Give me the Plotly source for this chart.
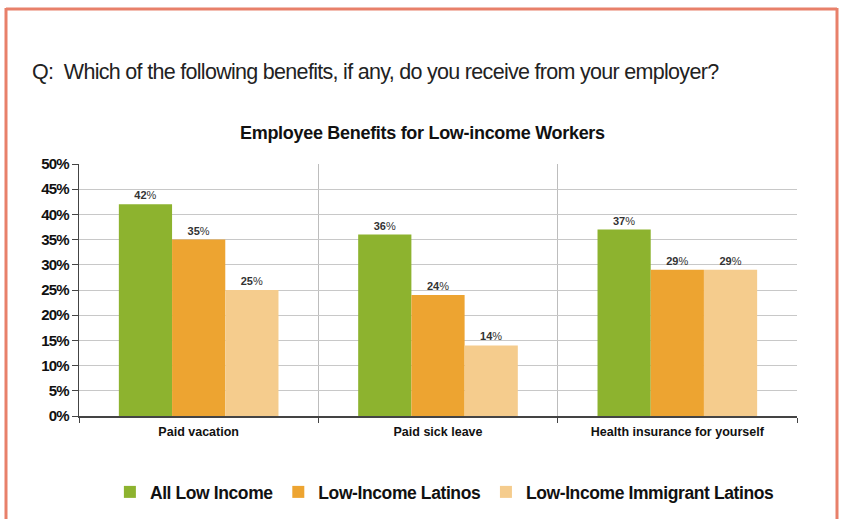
import plotly.graph_objects as go

categories = ["Paid vacation", "Paid sick leave", "Health insurance for yourself"]
series_names = ["All Low Income", "Low-Income Latinos", "Low-Income Immigrant Latinos"]
all_low = [42, 36, 37]
latinos = [35, 24, 29]
immigrant = [25, 14, 29]
colors = ["#8DB32F", "#EDA431", "#F5CC8D"]
y_ticks = [0, 5, 10, 15, 20, 25, 30, 35, 40, 45, 50]

W, H = 841, 519
L, R, T, B = 79, 44, 164, 103
PW, PH = W - L - R, H - T - B

ARIAL = "Liberation Sans, Arial, sans-serif"


def px_x(px):
    return (px - L) / PW


def px_y(py):
    return (H - B - py) / PH


fig = go.Figure()
for name, vals, col in zip(series_names, [all_low, latinos, immigrant], colors):
    fig.add_trace(go.Bar(
        x=categories, y=vals,
        name=f"<span style='letter-spacing:-0.4px'><b>{name}</b></span>",
        marker=dict(color=col, line=dict(width=0)),
        text=[f"<b>{v}</b>%" for v in vals], texttemplate="%{text}", textposition="outside",
        textfont=dict(family=ARIAL, size=11, color="#333333"),
        cliponaxis=False,
    ))

fig.update_layout(
    width=W, height=H,
    margin=dict(l=L, r=R, t=T, b=B),
    paper_bgcolor="white", plot_bgcolor="white",
    barmode="group", bargap=0.333, bargroupgap=0,
    showlegend=True,
    legend=dict(orientation="h", x=0.529, xanchor="center", xref="container",
                y=0.052, yanchor="middle", yref="container",
                font=dict(family=ARIAL, size=17.5, color="#111111"),
                itemwidth=30, traceorder="normal"),
    font=dict(family=ARIAL, color="#111111"),
    xaxis=dict(
        tickson="boundaries", showgrid=True, gridcolor="#BDBDBD", gridwidth=1,
        showline=True, linecolor="#444444", linewidth=1.5,
        ticks="outside", ticklen=5, tickcolor="#444444",
        tickvals=categories, ticktext=[f"<b>{c}</b>" for c in categories],
        tickfont=dict(family=ARIAL, size=12.5, color="#111111"),
        ticklabelstandoff=3,
        range=[-0.5, 2.5],
    ),
    yaxis=dict(
        range=[0, 50], tickvals=y_ticks,
        ticktext=[f"<span style='letter-spacing:-0.8px'><b>{v}%</b></span>" for v in y_ticks],
        showgrid=True, gridcolor="#C8C8C8", gridwidth=1,
        showline=True, linecolor="#444444", linewidth=1.2,
        ticks="outside", ticklen=6, tickcolor="#444444",
        tickfont=dict(family=ARIAL, size=15, color="#111111"),
        zeroline=False,
    ),
)

fig.add_annotation(
    text="<span style='letter-spacing:-0.7px'>Q:  Which of the following benefits, if any, do you receive from your employer?</span>",
    xref="paper", yref="paper", x=px_x(30), xanchor="left", y=px_y(72), yanchor="middle",
    showarrow=False, font=dict(family=ARIAL, size=21.5, color="#222222"),
)
fig.add_annotation(
    text="<span style='letter-spacing:-0.3px'><b>Employee Benefits for Low-income Workers</b></span>",
    xref="paper", yref="paper", x=px_x(422), xanchor="center", y=px_y(133), yanchor="middle",
    showarrow=False, font=dict(family=ARIAL, size=18, color="#111111"),
)
frame = dict(color="#E8806A", width=3)
fig.add_shape(type="line", xref="paper", yref="paper", x0=px_x(6), x1=px_x(6), y0=px_y(530), y1=px_y(8), line=frame)
fig.add_shape(type="line", xref="paper", yref="paper", x0=px_x(837), x1=px_x(837), y0=px_y(530), y1=px_y(8), line=frame)
fig.add_shape(type="line", xref="paper", yref="paper", x0=px_x(6), x1=px_x(837), y0=px_y(9), y1=px_y(9), line=frame)

fig.write_html("out.html")
